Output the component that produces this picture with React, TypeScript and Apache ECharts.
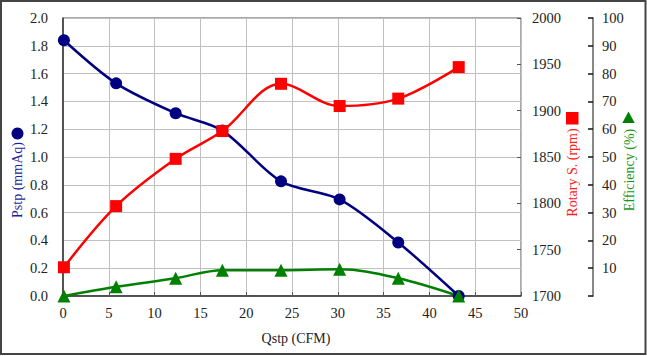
import React, { useEffect, useRef } from "react";
import * as echarts from "echarts";

const qstp = [0.1, 5.8, 12.3, 17.4, 23.8, 30.2, 36.6, 43.2];
const pstp = [1.84, 1.53, 1.315, 1.19, 0.825, 0.695, 0.385, 0.0];
const rpm = [1731, 1797, 1848, 1878, 1929, 1905, 1913, 1947];
const efficiency = [0.0, 3.3, 6.4, 9.3, 9.3, 9.6, 6.4, 0.0];

const xTitle = "Qstp (CFM)";
const yTitle = "Pstp (mmAq)";
const y2Title = "Rotary S. (rpm)";
const y3Title = "Efficiency (%)";

const FONT = "Liberation Serif";
const BLUE = "#000080";
const RED = "#FF0000";
const GREEN = "#008000";

export default function App() {
  const ref = useRef<HTMLDivElement>(null);
  useEffect(() => {
    if (!ref.current) return;
    const chart = echarts.init(ref.current, undefined, { renderer: "svg" });
    const labelStyle = { fontFamily: FONT, fontSize: 14.5, color: "#222" };
    const pair = (ys: number[]) => qstp.map((x, i) => [x, ys[i]]);
    chart.setOption({
      animation: false,
      backgroundColor: "#fff",
      textStyle: { fontFamily: FONT, fontSize: 14 },
      grid: {
        left: 63,
        top: 18,
        right: 126,
        bottom: 60,
        show: true,
        borderColor: "#555",
        borderWidth: 1,
      },
      xAxis: {
        type: "value",
        min: 0,
        max: 50,
        interval: 5,
        axisLine: { show: true, lineStyle: { color: "#333", width: 1.5 } },
        axisTick: { show: true, inside: true, length: 4, lineStyle: { color: "#555" } },
        axisLabel: { ...labelStyle, margin: 9, formatter: (v: number) => String(v) },
        splitLine: { show: true, lineStyle: { color: "#C0C0C0", width: 1 } },
      },
      yAxis: [
        {
          type: "value",
          min: 0,
          max: 2,
          interval: 0.2,
          position: "left",
          axisLine: { show: true, lineStyle: { color: "#333", width: 1.5 } },
          axisTick: { show: false },
          axisLabel: { ...labelStyle, margin: 15, formatter: (v: number) => v.toFixed(1) },
          splitLine: { show: true, lineStyle: { color: "#C0C0C0", width: 1 } },
        },
        {
          type: "value",
          min: 1700,
          max: 2000,
          interval: 50,
          position: "right",
          axisLine: { show: false },
          axisTick: { show: true, inside: true, length: 4, lineStyle: { color: "#555" } },
          axisLabel: { ...labelStyle, margin: 11, formatter: (v: number) => String(v) },
          splitLine: { show: false },
        },
        {
          type: "value",
          min: 0,
          max: 100,
          interval: 10,
          position: "right",
          offset: 72,
          axisLine: { show: true, lineStyle: { color: "#888", width: 2 } },
          axisTick: { show: true, inside: true, length: 5, lineStyle: { color: "#111", width: 1.5 } },
          axisLabel: {
            ...labelStyle,
            margin: 9,
            formatter: (v: number) => (v === 0 ? "" : String(v)),
          },
          splitLine: { show: false },
        },
      ],
      series: [
        {
          name: yTitle,
          type: "line",
          yAxisIndex: 0,
          data: pair(pstp),
          smooth: 0.3,
          clip: false,
          symbol: "circle",
          symbolSize: 12,
          lineStyle: { color: BLUE, width: 2.5 },
          itemStyle: { color: BLUE },
        },
        {
          name: y2Title,
          type: "line",
          yAxisIndex: 1,
          data: pair(rpm),
          smooth: 0.35,
          clip: false,
          symbol: "rect",
          symbolSize: 12,
          lineStyle: { color: RED, width: 2.5 },
          itemStyle: { color: RED },
        },
        {
          name: y3Title,
          type: "line",
          yAxisIndex: 2,
          data: pair(efficiency),
          smooth: 0.35,
          clip: false,
          symbol: "triangle",
          symbolSize: 13,
          lineStyle: { color: GREEN, width: 2.5 },
          itemStyle: { color: GREEN },
        },
      ],
      graphic: [
        {
          type: "rect",
          shape: { x: 1, y: 1, width: 644.5, height: 353 },
          style: { fill: "none", stroke: "#444", lineWidth: 2 },
          silent: true,
        },
        {
          type: "text",
          x: 296,
          y: 338,
          style: { text: xTitle, fontFamily: FONT, fontSize: 14, fill: "#222", align: "center", verticalAlign: "middle" },
        },
        {
          type: "text",
          x: 17,
          y: 180,
          rotation: Math.PI / 2,
          style: { text: yTitle, fontFamily: FONT, fontSize: 14, fill: "#1F1F99", align: "center", verticalAlign: "middle" },
        },
        {
          type: "circle",
          shape: { cx: 17.5, cy: 133.5, r: 6 },
          style: { fill: BLUE },
        },
        {
          type: "text",
          x: 572,
          y: 172.5,
          rotation: Math.PI / 2,
          style: { text: y2Title, fontFamily: FONT, fontSize: 14, fill: "#FF2020", align: "center", verticalAlign: "middle" },
        },
        {
          type: "rect",
          shape: { x: 566, y: 112, width: 12.5, height: 12.5 },
          style: { fill: RED },
        },
        {
          type: "text",
          x: 629,
          y: 170,
          rotation: Math.PI / 2,
          style: { text: y3Title, fontFamily: FONT, fontSize: 14, fill: "#1E961E", align: "center", verticalAlign: "middle" },
        },
        {
          type: "polygon",
          shape: { points: [[628.5, 111.5], [634.7, 123], [622.3, 123]] },
          style: { fill: GREEN },
        },
      ],
    });
    return () => chart.dispose();
  }, []);
  return (
    <div
      ref={ref}
      style={{ position: "fixed", left: 0, top: 0, width: 647, height: 356 }}
    />
  );
}
